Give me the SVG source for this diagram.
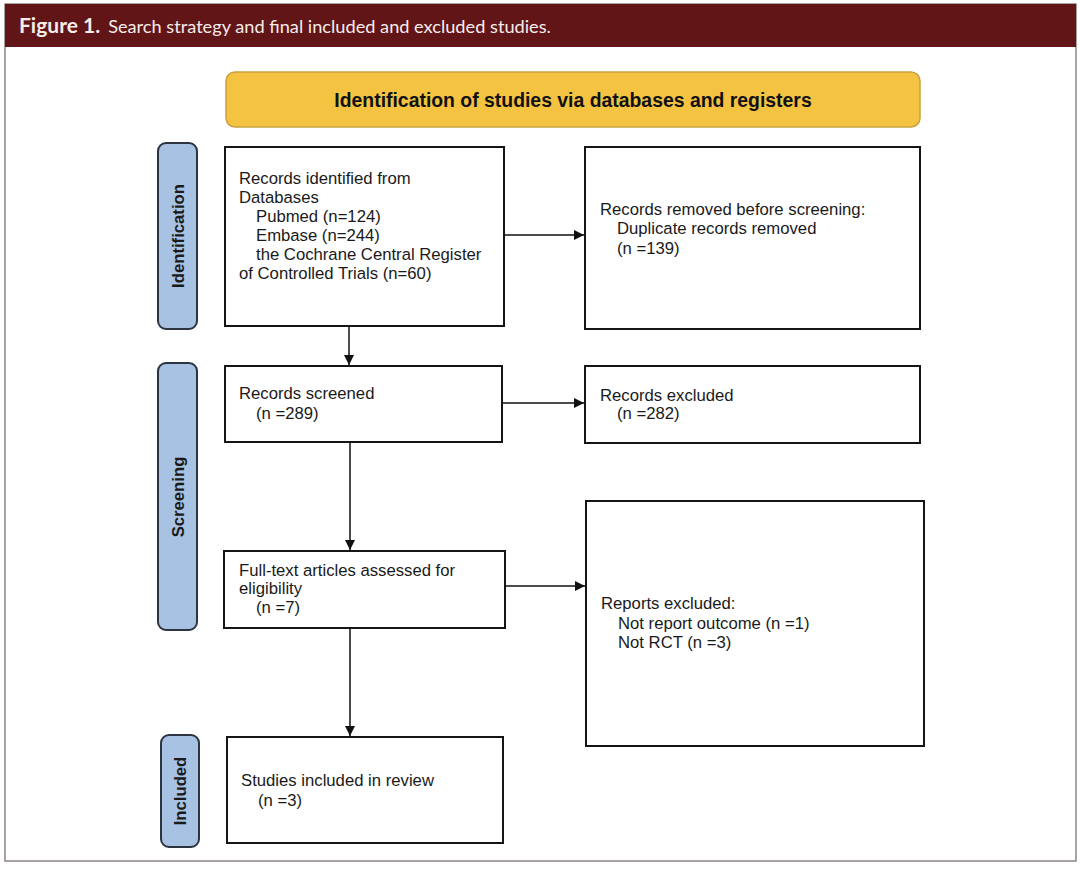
<svg xmlns="http://www.w3.org/2000/svg" width="1080" height="869" viewBox="0 0 1080 869">
<defs>
<marker id="arr" viewBox="0 0 10 10" refX="10" refY="5" markerWidth="11" markerHeight="10" markerUnits="userSpaceOnUse" orient="auto">
<path d="M0,0 L10,5 L0,10 z" fill="#111"/>
</marker>
<style>
.box{fill:#fff;stroke:#151515;stroke-width:2}
.side{fill:#a7c2e3;stroke:#2b3440;stroke-width:2}
.t{font-family:"Liberation Sans",Arial,sans-serif;font-size:16.7px;fill:#1a1a1a}
.st{font-family:"Liberation Sans",Arial,sans-serif;font-size:16.7px;font-weight:bold;fill:#1a1a1a}
.conn{stroke:#111;stroke-width:1.5;fill:none;marker-end:url(#arr)}
</style>
</defs>
<rect x="0" y="0" width="1080" height="869" fill="#fff"/>
<g id="frame">
<rect x="5" y="4" width="1071" height="857" fill="#fff" stroke="#8c8484" stroke-width="1.5"/>
<rect x="5" y="4" width="1071" height="43" fill="#611517"/>
<text x="19" y="33" font-family="Lato,'Open Sans',sans-serif" fill="#f6ecea"><tspan font-weight="bold" font-size="21">Figure 1.</tspan><tspan dx="8" font-size="18.2">Search strategy and final included and excluded studies.</tspan></text>
</g>
<g id="title">
<rect x="226" y="72" width="694" height="55" rx="9" fill="#f4c342" stroke="#c9a13e" stroke-width="1.5"/>
<text x="573" y="107" text-anchor="middle" font-family="'Liberation Sans',Arial,sans-serif" font-size="19.4" font-weight="bold" fill="#111">Identification of studies via databases and registers</text>
</g>
<g id="label-identification">
<rect class="side" x="158" y="143" width="39" height="186" rx="8"/>
<text class="st" transform="translate(184,236) rotate(-90)" text-anchor="middle">Identification</text>
</g>
<g id="label-screening">
<rect class="side" x="158" y="363" width="39" height="267" rx="8"/>
<text class="st" transform="translate(184,497) rotate(-90)" text-anchor="middle">Screening</text>
</g>
<g id="label-included">
<rect class="side" x="161" y="735" width="38" height="112" rx="8"/>
<text class="st" transform="translate(186,791) rotate(-90)" text-anchor="middle">Included</text>
</g>
<g id="records-identified">
<rect class="box" x="225" y="147" width="279" height="179"/>
<text class="t"><tspan x="239" y="184">Records identified from</tspan><tspan x="239" y="203">Databases</tspan><tspan x="256" y="222">Pubmed (n=124)</tspan><tspan x="256" y="241">Embase (n=244)</tspan><tspan x="256" y="260">the Cochrane Central Register</tspan><tspan x="239" y="279">of Controlled Trials (n=60)</tspan></text>
</g>
<g id="records-removed">
<rect class="box" x="585" y="147" width="335" height="182"/>
<text class="t"><tspan x="600" y="215">Records removed before screening:</tspan><tspan x="617" y="234">Duplicate records removed</tspan><tspan x="617" y="254">(n =139)</tspan></text>
</g>
<g id="records-screened">
<rect class="box" x="225" y="366" width="277" height="76"/>
<text class="t"><tspan x="239" y="399">Records screened</tspan><tspan x="256" y="419">(n =289)</tspan></text>
</g>
<g id="records-excluded">
<rect class="box" x="585" y="366" width="335" height="77"/>
<text class="t"><tspan x="600" y="401">Records excluded</tspan><tspan x="617" y="419">(n =282)</tspan></text>
</g>
<g id="full-text">
<rect class="box" x="224" y="551" width="281" height="77"/>
<text class="t"><tspan x="239" y="576">Full-text articles assessed for</tspan><tspan x="239" y="594">eligibility</tspan><tspan x="256" y="613">(n =7)</tspan></text>
</g>
<g id="reports-excluded">
<rect class="box" x="586" y="501" width="338" height="245"/>
<text class="t"><tspan x="601" y="609">Reports excluded:</tspan><tspan x="618" y="629">Not report outcome (n =1)</tspan><tspan x="618" y="648">Not RCT (n =3)</tspan></text>
</g>
<g id="studies-included">
<rect class="box" x="227" y="737" width="276" height="106"/>
<text class="t"><tspan x="241" y="786">Studies included in review</tspan><tspan x="258" y="806">(n =3)</tspan></text>
</g>
<g id="connectors">
<line class="conn" x1="504" y1="235" x2="584" y2="235"/>
<line class="conn" x1="502" y1="403" x2="584" y2="403"/>
<line class="conn" x1="505" y1="586" x2="585" y2="586"/>
<line class="conn" x1="349" y1="326" x2="349" y2="365"/>
<line class="conn" x1="350" y1="442" x2="350" y2="550"/>
<line class="conn" x1="350" y1="628" x2="350" y2="736"/>
</g>
</svg>
